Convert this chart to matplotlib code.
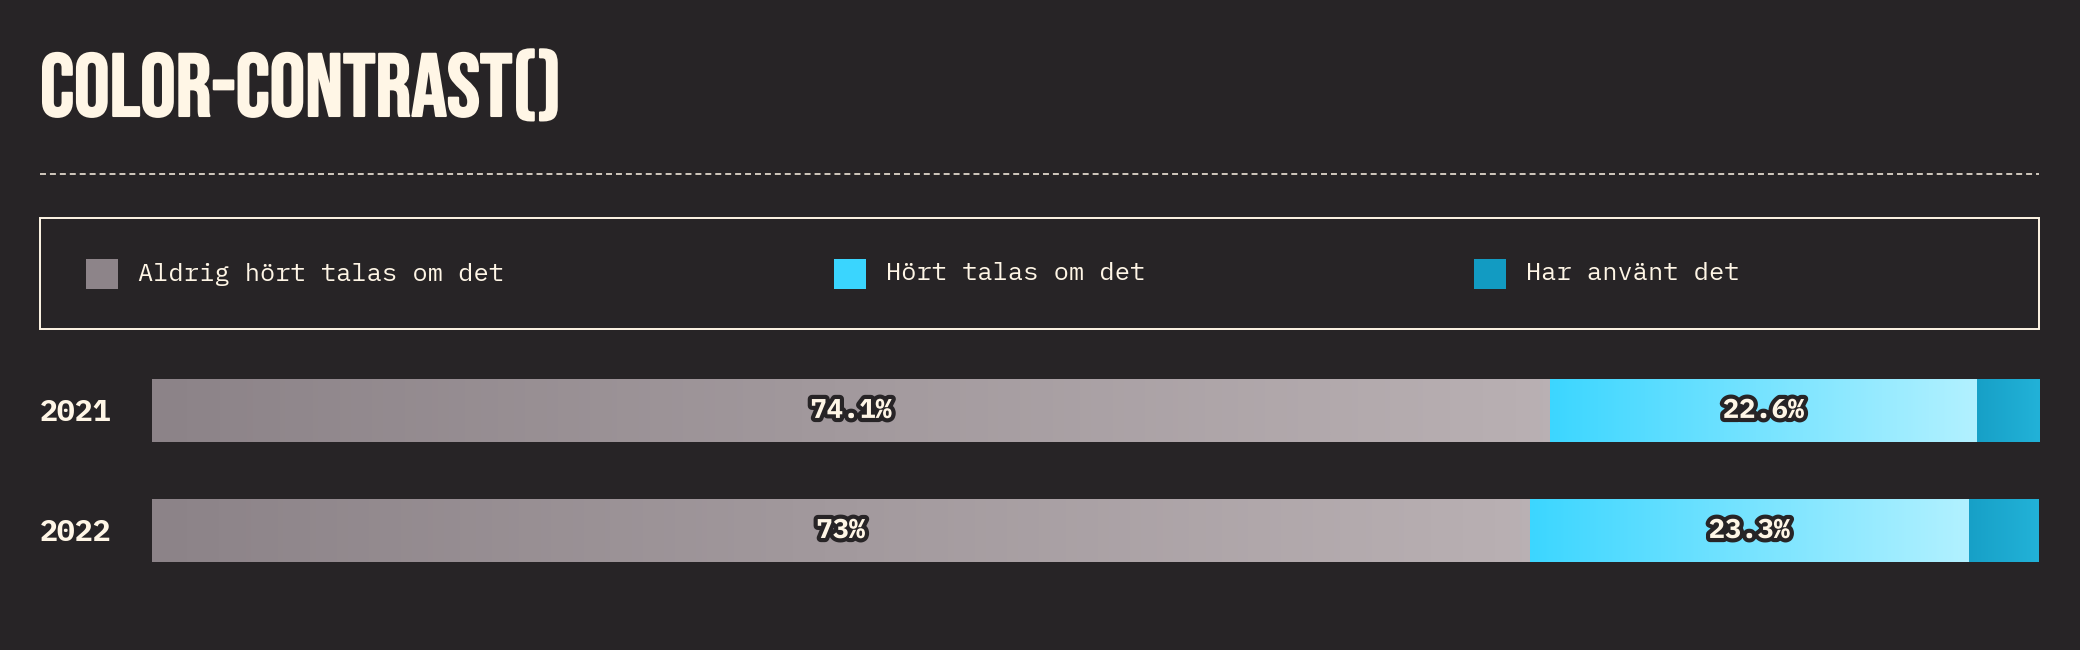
import numpy as np
import matplotlib
matplotlib.use("Agg")
import matplotlib.pyplot as plt
import matplotlib.patheffects as pe
from matplotlib.colors import LinearSegmentedColormap
from matplotlib.patches import Rectangle
from matplotlib.lines import Line2D

# --- data ---
years = ["2021", "2022"]
categories = ["Aldrig hört talas om det", "Hört talas om det", "Har använt det"]
never_heard = [74.1, 73.0]
heard_of = [22.6, 23.3]
used_it = [3.3, 3.7]
title = "COLOR-CONTRAST()"

BG = "#272426"
CREAM = "#fff6e6"
legend_colors = ["#8d8489", "#3ad5fe", "#129bc2"]
# gradient start/end per segment
grads = [("#8c8388", "#b9b0b3"), ("#3cd6ff", "#b2f1ff"), ("#17a0c7", "#22b2d8")]

MONO = ["IBM Plex Mono", "DejaVu Sans Mono"]
W, H = 2080, 650

fig = plt.figure(figsize=(W / 100, H / 100), dpi=100, facecolor=BG)


def fx(px):
    return px / W


def fy(py):
    return 1 - py / H


# title
fig.text(fx(40), fy(116), title, color=CREAM, fontsize=64,
         family=["Bebas Neue", "DejaVu Sans"], va="baseline",
         path_effects=[pe.withStroke(linewidth=1.5, foreground=CREAM)])

# dashed rule
fig.add_artist(Line2D([fx(40), fx(2039)], [fy(174), fy(174)], color=CREAM, lw=1.1,
                      dashes=(3.9, 2.6), transform=fig.transFigure))

# legend box
fig.add_artist(Rectangle((fx(40), fy(329)), fx(1999), 111 / H, transform=fig.transFigure,
                         facecolor="none", edgecolor=CREAM, lw=1.4))
leg_x = [86, 834, 1474]
for lx, lab, col in zip(leg_x, categories, legend_colors):
    fig.add_artist(Rectangle((fx(lx), fy(289)), fx(32), 30 / H, transform=fig.transFigure,
                             facecolor=col, edgecolor="none"))
    fig.text(fx(lx + 52), fy(274), lab, color=CREAM, fontsize=18.3,
             family=MONO, va="center", ha="left")

# bars
ax = fig.add_axes([fx(152), fy(580), fx(1887), 220 / H])
ax.set_facecolor(BG)
y = np.arange(len(years))
bar_h = 0.525
left = np.zeros(len(years))
for vals, (c0, c1), col, show in zip([never_heard, heard_of, used_it], grads,
                                     legend_colors, [True, True, False]):
    bars = ax.barh(y, vals, left=left, height=bar_h, color=col, edgecolor="none")
    for b, v in zip(bars, vals):
        x0, y0, w, h = b.get_x(), b.get_y(), b.get_width(), b.get_height()
        cmap = LinearSegmentedColormap.from_list("g", [c0, c1])
        im = ax.imshow(np.linspace(0, 1, 256).reshape(1, -1), cmap=cmap,
                       extent=(x0, x0 + w, y0, y0 + h), aspect="auto",
                       interpolation="bilinear", zorder=2)
        im.set_clip_path(b)
        if show:
            ax.text(x0 + w / 2, y0 + h / 2, f"{v:g}%", ha="center", va="center",
                    color=CREAM, fontsize=19.5, fontweight="bold", family=MONO, zorder=5,
                    path_effects=[pe.withStroke(linewidth=6, foreground=BG)])
    left = left + np.array(vals)

ax.set_xlim(0, 100)
ax.set_ylim(1.4125, -0.42)
ax.set_yticks(y)
ax.set_yticklabels(years, ha="left", color=CREAM, fontsize=21.5,
                   family=MONO, fontweight="bold")
ax.tick_params(axis="y", length=0, pad=80.6)
ax.set_xticks([])
for s in ax.spines.values():
    s.set_visible(False)

fig.savefig("out.png", dpi=100, facecolor=BG)
